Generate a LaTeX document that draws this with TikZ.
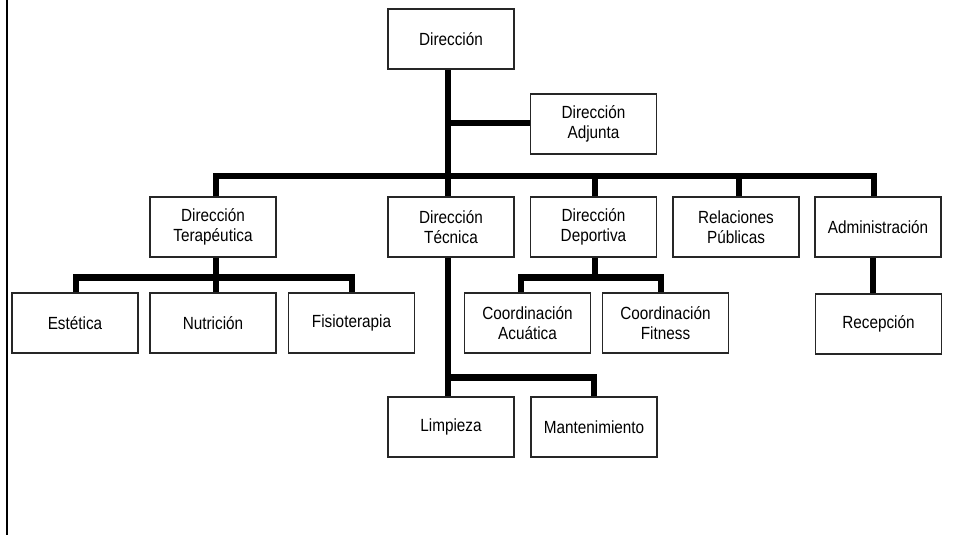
\documentclass[tikz,border=0pt]{standalone}
\usepackage{fontspec}
\setmainfont{Liberation Sans}
\newfontfamily\boxfont[FakeStretch=0.87]{Liberation Sans}
\begin{document}
\begin{tikzpicture}[x=1pt,y=-1pt,
  box/.style={draw=black!85, line width=1.1pt, fill=white, minimum width=126pt, minimum height=60pt, inner sep=0pt, align=center, font=\boxfont\fontsize{17.6}{19.5}\selectfont},
  conn/.style={line width=6.5pt, line join=miter}]
\useasboundingbox (0,0) rectangle (954,535);
\draw[line width=2pt] (7,0) -- (7,535);
% nodes
\node[box] (dir) at (451,39) {Dirección};
\node[box] (adj) at (593.5,124) {Dirección\\Adjunta};
\node[box] (ter) at (213,227) {Dirección\\Terapéutica};
\node[box] (tec) at (451,227) {Dirección\\Técnica};
\node[box] (dep) at (593.5,227) {Dirección\\Deportiva};
\node[box] (rel) at (736,227) {Relaciones\\Públicas};
\node[box] (adm) at (878,227) {Administración};
\node[box] (est) at (75,323) {Estética};
\node[box] (nut) at (213,323) {Nutrición};
\node[box] (fis) at (351.5,323) {Fisioterapia};
\node[box] (aca) at (527.5,323) {Coordinación\\Acuática};
\node[box] (fit) at (665.5,323) {Coordinación\\Fitness};
\node[box] (rec) at (878.5,324) {Recepción};
\node[box] (lim) at (451,427) {Limpieza};
\node[box] (man) at (594,427) {Mantenimiento};
% junction coordinates
\coordinate (j1) at (448,123);
\coordinate (mL) at (216,176);
\coordinate (mR) at (874,176);
\coordinate (mdep) at (595,176);
\coordinate (mrel) at (739,176);
\coordinate (t0) at (216,277.5);
\coordinate (tl) at (76,277.5);
\coordinate (tr) at (352,277.5);
\coordinate (d0) at (595,277.5);
\coordinate (dl) at (521,277.5);
\coordinate (dr) at (661,277.5);
\coordinate (k0) at (448,377.5);
\coordinate (kr) at (594,377.5);
\coordinate (a0) at (873,300);
% connectors
\draw[conn] (dir.south -| j1) -- (tec.north -| j1);
\draw[conn] (j1) -- (adj.west |- j1);
\draw[conn] (ter.north -| mL) -- (mL) -- (mR) -- (adm.north -| mR);
\draw[conn] (mdep) -- (dep.north -| mdep);
\draw[conn] (mrel) -- (rel.north -| mrel);
\draw[conn] (ter.south -| t0) -- (nut.north -| t0);
\draw[conn] (est.north -| tl) -- (tl) -- (tr) -- (fis.north -| tr);
\draw[conn] (dep.south -| d0) -- (d0);
\draw[conn] (aca.north -| dl) -- (dl) -- (dr) -- (fit.north -| dr);
\draw[conn] (tec.south -| k0) -- (lim.north -| k0);
\draw[conn] (k0) -- (kr) -- (man.north -| kr);
\draw[conn] (adm.south -| a0) -- (rec.north -| a0);
\end{tikzpicture}
\end{document}
